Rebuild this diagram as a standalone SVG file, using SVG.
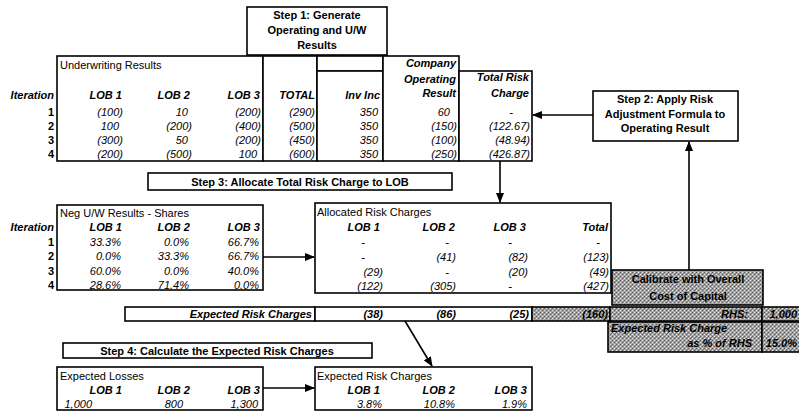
<svg xmlns="http://www.w3.org/2000/svg" width="799" height="411" viewBox="0 0 799 411">
<defs>
<pattern id="ht" width="4" height="4" patternUnits="userSpaceOnUse">
<rect width="4" height="4" fill="#a4a4a4"/>
<rect x="0" y="0" width="1" height="1" fill="#5a5a5a"/>
<rect x="2" y="2" width="1" height="1" fill="#5a5a5a"/>
<rect x="2" y="0" width="1" height="1" fill="#e6e6e6"/>
<rect x="0" y="2" width="1" height="1" fill="#e6e6e6"/>
<rect x="3" y="1" width="1" height="1" fill="#7a7a7a"/>
</pattern>
<marker id="ah" markerWidth="10" markerHeight="8" refX="9" refY="4" orient="auto" markerUnits="userSpaceOnUse">
<path d="M0,0 L10,4 L0,8 Z" fill="#000"/>
</marker>
</defs>
<style>
text{font-family:"Liberation Sans",Arial,sans-serif;font-size:11px;fill:#000}
.b{font-weight:bold}
.bi{font-weight:bold;font-style:italic}
.i{font-style:italic}
.e{text-anchor:end}
.m{text-anchor:middle}
.bx{fill:#fff;stroke:#000;stroke-width:1.6}
.sh{fill:url(#ht);stroke:#000;stroke-width:1.6}
.ln{stroke:#000;stroke-width:1.6;fill:none}
</style>
<rect width="799" height="411" fill="#fff"/>

<g id="step1">
<rect class="bx" x="247" y="7" width="140" height="48"/>
<text class="b m" x="317" y="19">Step 1: Generate</text>
<text class="b m" x="317" y="34">Operating and U/W</text>
<text class="b m" x="317" y="49">Results</text>
</g>

<g id="uw-results">
<rect class="bx" x="57" y="56" width="206" height="105"/>
<rect class="bx" x="263" y="56" width="54" height="105"/>
<rect class="bx" x="317" y="56" width="66" height="15"/>
<rect class="bx" x="317" y="71" width="66" height="90"/>
<rect class="bx" x="383" y="56" width="76" height="105"/>
<rect class="bx" x="459" y="71" width="73" height="90"/>
<text x="60" y="69">Underwriting Results</text>
<text class="bi e" x="54" y="99">Iteration</text>
<text class="bi e" x="122" y="99">LOB 1</text>
<text class="bi e" x="190" y="99">LOB 2</text>
<text class="bi e" x="260" y="99">LOB 3</text>
<text class="bi e" x="315" y="99">TOTAL</text>
<text class="bi e" x="380" y="99">Inv Inc</text>
<text class="bi e" x="456" y="67">Company</text>
<text class="bi e" x="456" y="83">Operating</text>
<text class="bi e" x="456" y="97">Result</text>
<text class="bi e" x="529" y="81">Total Risk</text>
<text class="bi e" x="529" y="97">Charge</text>
<text class="b e" x="54" y="116">1</text>
<text class="b e" x="54" y="130">2</text>
<text class="b e" x="54" y="144">3</text>
<text class="b e" x="54" y="158">4</text>
<text class="i e" x="123" y="116">(100)</text>
<text class="i e" x="119" y="130">100</text>
<text class="i e" x="123" y="144">(300)</text>
<text class="i e" x="123" y="158">(200)</text>
<text class="i e" x="188" y="116">10</text>
<text class="i e" x="192" y="130">(200)</text>
<text class="i e" x="188" y="144">50</text>
<text class="i e" x="192" y="158">(500)</text>
<text class="i e" x="261" y="116">(200)</text>
<text class="i e" x="261" y="130">(400)</text>
<text class="i e" x="261" y="144">(200)</text>
<text class="i e" x="257" y="158">100</text>
<text class="i e" x="315" y="116">(290)</text>
<text class="i e" x="315" y="130">(500)</text>
<text class="i e" x="315" y="144">(450)</text>
<text class="i e" x="315" y="158">(600)</text>
<text class="i e" x="378" y="116">350</text>
<text class="i e" x="378" y="130">350</text>
<text class="i e" x="378" y="144">350</text>
<text class="i e" x="378" y="158">350</text>
<text class="i e" x="450" y="116">60</text>
<text class="i e" x="457" y="130">(150)</text>
<text class="i e" x="457" y="144">(100)</text>
<text class="i e" x="457" y="158">(250)</text>
<text class="i m" x="511" y="116">-</text>
<text class="i e" x="530" y="130">(122.67)</text>
<text class="i e" x="530" y="144">(48.94)</text>
<text class="i e" x="530" y="158">(426.87)</text>
</g>

<g id="step2">
<rect class="bx" x="593" y="91" width="145" height="50"/>
<text class="b m" x="665" y="103">Step 2: Apply Risk</text>
<text class="b m" x="665" y="118">Adjustment Formula to</text>
<text class="b m" x="665" y="132">Operating Result</text>
</g>

<g id="step3">
<rect class="bx" x="148" y="173" width="304" height="17"/>
<text class="b m" x="300" y="185.5">Step 3: Allocate Total Risk Charge to LOB</text>
</g>

<g id="neg-shares">
<rect class="bx" x="57" y="205" width="206" height="85"/>
<text x="60" y="217">Neg U/W Results - Shares</text>
<text class="bi e" x="54" y="231">Iteration</text>
<text class="bi e" x="122" y="231">LOB 1</text>
<text class="bi e" x="190" y="231">LOB 2</text>
<text class="bi e" x="260" y="231">LOB 3</text>
<text class="b e" x="54" y="245.5">1</text>
<text class="b e" x="54" y="260">2</text>
<text class="b e" x="54" y="274.5">3</text>
<text class="b e" x="54" y="289">4</text>
<text class="i e" x="121" y="245.5">33.3%</text>
<text class="i e" x="189" y="245.5">0.0%</text>
<text class="i e" x="259" y="245.5">66.7%</text>
<text class="i e" x="121" y="260">0.0%</text>
<text class="i e" x="189" y="260">33.3%</text>
<text class="i e" x="259" y="260">66.7%</text>
<text class="i e" x="121" y="274.5">60.0%</text>
<text class="i e" x="189" y="274.5">0.0%</text>
<text class="i e" x="259" y="274.5">40.0%</text>
<text class="i e" x="121" y="289">28.6%</text>
<text class="i e" x="189" y="289">71.4%</text>
<text class="i e" x="259" y="289">0.0%</text>
</g>

<g id="allocated">
<rect class="bx" x="315" y="203" width="296" height="90"/>
<text x="317" y="216">Allocated Risk Charges</text>
<text class="bi e" x="380" y="231">LOB 1</text>
<text class="bi e" x="455" y="231">LOB 2</text>
<text class="bi e" x="526" y="231">LOB 3</text>
<text class="bi e" x="608" y="231">Total</text>
<text class="i m" x="363" y="245.5">-</text>
<text class="i m" x="447" y="245.5">-</text>
<text class="i m" x="510" y="245.5">-</text>
<text class="i m" x="598" y="245.5">-</text>
<text class="i m" x="363" y="260.5">-</text>
<text class="i e" x="456" y="260.5">(41)</text>
<text class="i e" x="528" y="260.5">(82)</text>
<text class="i e" x="609" y="260.5">(123)</text>
<text class="i e" x="383" y="275.5">(29)</text>
<text class="i m" x="447" y="275.5">-</text>
<text class="i e" x="528" y="275.5">(20)</text>
<text class="i e" x="609" y="275.5">(49)</text>
<text class="i e" x="383" y="290">(122)</text>
<text class="i e" x="456" y="290">(305)</text>
<text class="i m" x="510" y="290">-</text>
<text class="i e" x="609" y="290">(427)</text>
</g>

<g id="calibrate">
<rect class="sh" x="612" y="270" width="151" height="35"/>
<text class="b m" x="688" y="283">Calibrate with Overall</text>
<text class="b m" x="688" y="300">Cost of Capital</text>
</g>

<g id="expected-risk-bar">
<rect class="bx" x="125" y="307" width="190" height="14"/>
<rect class="bx" x="315" y="307" width="217" height="14"/>
<rect class="sh" x="532" y="307" width="78" height="14"/>
<text class="bi e" x="312" y="318">Expected Risk Charges</text>
<text class="bi e" x="383" y="318">(38)</text>
<text class="bi e" x="456" y="318">(86)</text>
<text class="bi e" x="529" y="318">(25)</text>
<text class="bi e" x="608" y="318">(160)</text>
</g>

<g id="rhs">
<rect class="sh" x="610" y="307" width="152" height="14"/>
<rect class="sh" x="762" y="307" width="40" height="14"/>
<text class="bi e" x="748" y="318">RHS:</text>
<text class="bi e" x="797" y="318">1,000</text>
</g>

<g id="erc-pct">
<rect class="sh" x="608" y="322" width="154" height="30"/>
<rect class="sh" x="762" y="322" width="40" height="30"/>
<text class="bi" x="611" y="332">Expected Risk Charge</text>
<text class="bi e" x="752" y="347">as % of RHS</text>
<text class="bi e" x="797" y="347">15.0%</text>
</g>

<g id="step4">
<rect class="bx" x="63" y="343" width="309" height="15"/>
<text class="b m" x="217" y="354.5">Step 4: Calculate the Expected Risk Charges</text>
</g>

<g id="expected-losses">
<rect class="bx" x="57" y="367" width="206" height="43"/>
<text x="60" y="380">Expected Losses</text>
<text class="bi e" x="122" y="394">LOB 1</text>
<text class="bi e" x="190" y="394">LOB 2</text>
<text class="bi e" x="260" y="394">LOB 3</text>
<text class="i e" x="92" y="408">1,000</text>
<text class="i e" x="183" y="408">800</text>
<text class="i e" x="258" y="408">1,300</text>
</g>

<g id="expected-risk-charges">
<rect class="bx" x="315" y="367" width="217" height="43"/>
<text x="317" y="380">Expected Risk Charges</text>
<text class="bi e" x="380" y="394">LOB 1</text>
<text class="bi e" x="455" y="394">LOB 2</text>
<text class="bi e" x="527" y="394">LOB 3</text>
<text class="i e" x="382" y="408">3.8%</text>
<text class="i e" x="455" y="408">10.8%</text>
<text class="i e" x="527" y="408">1.9%</text>
</g>

<g id="connectors">
<line class="ln" x1="593" y1="115" x2="533" y2="115" marker-end="url(#ah)"/>
<line class="ln" x1="689" y1="270" x2="689" y2="142" marker-end="url(#ah)"/>
<line class="ln" x1="500" y1="161" x2="500" y2="202" marker-end="url(#ah)"/>
<line class="ln" x1="263" y1="257" x2="314" y2="257" marker-end="url(#ah)"/>
<line class="ln" x1="405" y1="321" x2="432" y2="366" marker-end="url(#ah)"/>
<line class="ln" x1="263" y1="388" x2="314" y2="388" marker-end="url(#ah)"/>
</g>
</svg>
